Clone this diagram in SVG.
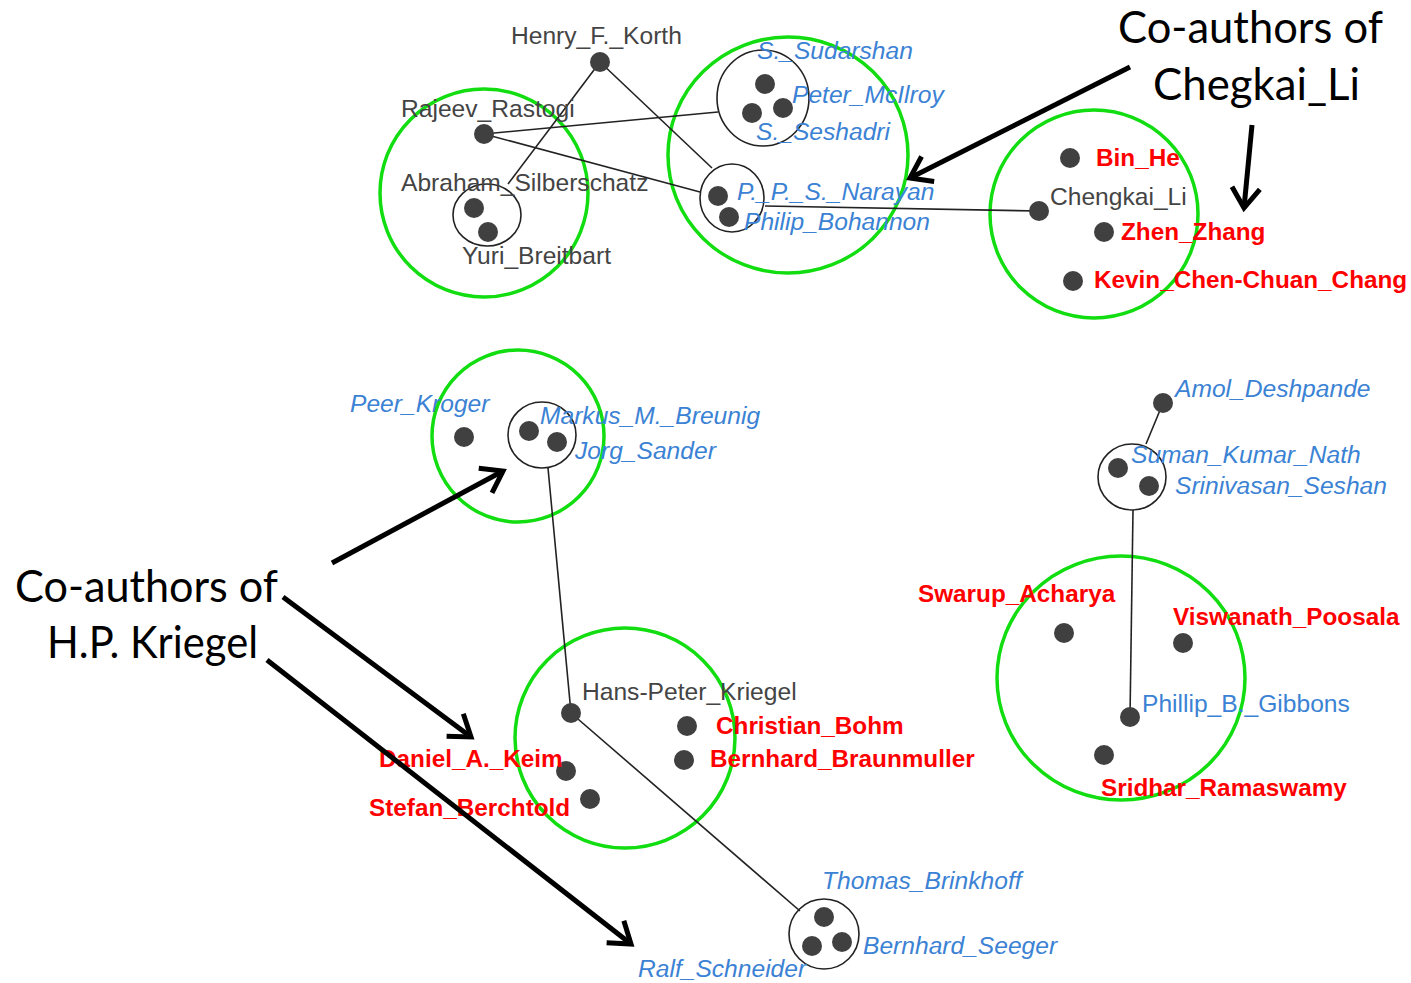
<svg xmlns="http://www.w3.org/2000/svg" width="1411" height="983" viewBox="0 0 1411 983">
<defs>
<style>
.gc{fill:none;stroke:#11dd11;stroke-width:3.5}
.bc{fill:none;stroke:#222;stroke-width:1.6}
.d{fill:#404040}
.e{stroke:#222;stroke-width:1.6;fill:none}
.g{font-family:"Liberation Sans",Arial,sans-serif;font-size:24.6px;fill:#444}
.b{font-family:"Liberation Sans",Arial,sans-serif;font-size:24.6px;fill:#3b82d4;font-style:italic}
.bn{font-family:"Liberation Sans",Arial,sans-serif;font-size:24.6px;fill:#3b82d4}
.r{font-family:"Liberation Sans",Arial,sans-serif;font-size:24.3px;fill:#ff0000;font-weight:bold}
.a{font-family:Lato,"Open Sans",sans-serif;font-size:44px;fill:#000}
.ar{stroke:#000;stroke-width:5;fill:none;marker-end:url(#ah)}
</style>
<marker id="ah" markerUnits="userSpaceOnUse" markerWidth="40" markerHeight="40" viewBox="-30 -20 40 40" refX="0" refY="0" orient="auto" overflow="visible">
<path d="M-20,-14 L0,0 L-20,14" fill="none" stroke="#000" stroke-width="5" stroke-linejoin="miter"/>
</marker>
</defs>
<rect width="1411" height="983" fill="#fff"/>

<g id="clusters">
<circle class="gc" cx="484" cy="193" r="104"/>
<ellipse class="gc" cx="788" cy="155" rx="120" ry="118"/>
<circle class="gc" cx="1094" cy="214" r="104"/>
<circle class="gc" cx="518" cy="436" r="86"/>
<circle class="gc" cx="625" cy="738" r="110"/>
<ellipse class="gc" cx="1121" cy="678" rx="124" ry="122"/>
</g>

<g id="connectors">
<line class="e" x1="600" y1="62" x2="508" y2="184"/>
<line class="e" x1="600" y1="62" x2="712" y2="168"/>
<line class="e" x1="484" y1="134" x2="718" y2="112"/>
<line class="e" x1="484" y1="134" x2="700" y2="192"/>
<line class="e" x1="765" y1="206" x2="1039" y2="211"/>
<line class="e" x1="548" y1="468" x2="571" y2="713"/>
<line class="e" x1="571" y1="713" x2="800" y2="911"/>
<line class="e" x1="1163" y1="403" x2="1146" y2="444"/>
<line class="e" x1="1133" y1="510" x2="1130" y2="717"/>
</g>

<g id="node-korth"><circle class="d" cx="600" cy="62" r="10"/><text class="g" x="511" y="44">Henry_F._Korth</text></g>
<g id="node-rastogi"><circle class="d" cx="484" cy="134" r="10"/><text class="g" x="401" y="117">Rajeev_Rastogi</text></g>
<g id="node-silberschatz"><ellipse class="bc" cx="487" cy="215" rx="34" ry="31"/><circle class="d" cx="474" cy="208" r="10"/><circle class="d" cx="488" cy="232" r="10"/><text class="g" x="401" y="191">Abraham_Silberschatz</text><text class="g" x="462" y="264">Yuri_Breitbart</text></g>
<g id="node-sudarshan"><ellipse class="bc" cx="763" cy="98" rx="46" ry="48"/><circle class="d" cx="765" cy="84" r="10"/><circle class="d" cx="752" cy="113" r="10"/><circle class="d" cx="783" cy="108" r="10"/><text class="b" x="757" y="59">S._Sudarshan</text><text class="b" x="792" y="103">Peter_McIlroy</text><text class="b" x="756" y="140">S._Seshadri</text></g>
<g id="node-narayan"><ellipse class="bc" cx="732" cy="198" rx="32" ry="34"/><circle class="d" cx="718" cy="196" r="10"/><circle class="d" cx="729" cy="217" r="10"/><text class="b" x="737" y="200">P._P._S._Narayan</text><text class="b" x="744" y="230">Philip_Bohannon</text></g>
<g id="node-chengkai"><circle class="d" cx="1039" cy="211" r="10"/><text class="g" x="1050" y="205">Chengkai_Li</text></g>
<g id="node-binhe"><circle class="d" cx="1070" cy="158" r="10"/><text class="r" x="1096" y="166">Bin_He</text></g>
<g id="node-zhang"><circle class="d" cx="1104" cy="232" r="10"/><text class="r" x="1121" y="240">Zhen_Zhang</text></g>
<g id="node-chang"><circle class="d" cx="1073" cy="281" r="10"/><text class="r" x="1094" y="288">Kevin_Chen-Chuan_Chang</text></g>

<g id="node-kroger"><circle class="d" cx="464" cy="437" r="10"/><text class="b" x="350" y="412">Peer_Kroger</text></g>
<g id="node-breunig"><ellipse class="bc" cx="542" cy="435" rx="34" ry="33"/><circle class="d" cx="529" cy="431" r="10"/><circle class="d" cx="557" cy="442" r="10"/><text class="b" x="540" y="424">Markus_M._Breunig</text><text class="b" x="575" y="459">Jorg_Sander</text></g>
<g id="node-kriegel"><circle class="d" cx="571" cy="713" r="10"/><text class="g" x="582" y="700">Hans-Peter_Kriegel</text></g>
<g id="node-bohm"><circle class="d" cx="687" cy="726" r="10"/><text class="r" x="716" y="734">Christian_Bohm</text></g>
<g id="node-braunmuller"><circle class="d" cx="684" cy="760" r="10"/><text class="r" x="710" y="767">Bernhard_Braunmuller</text></g>
<g id="node-keim"><circle class="d" cx="566" cy="771" r="10"/><text class="r" x="379" y="767">Daniel_A._Keim</text></g>
<g id="node-berchtold"><circle class="d" cx="590" cy="799" r="10"/><text class="r" x="369" y="816">Stefan_Berchtold</text></g>
<g id="node-brinkhoff"><ellipse class="bc" cx="824" cy="934" rx="35" ry="35"/><circle class="d" cx="824" cy="917" r="10"/><circle class="d" cx="812" cy="946" r="10"/><circle class="d" cx="842" cy="942" r="10"/><text class="b" x="822" y="889">Thomas_Brinkhoff</text><text class="b" x="863" y="954">Bernhard_Seeger</text><text class="b" x="638" y="977">Ralf_Schneider</text></g>

<g id="node-deshpande"><circle class="d" cx="1163" cy="403" r="10"/><text class="b" x="1175" y="397">Amol_Deshpande</text></g>
<g id="node-nath"><ellipse class="bc" cx="1132" cy="477" rx="34" ry="33"/><circle class="d" cx="1118" cy="468" r="10"/><circle class="d" cx="1149" cy="486" r="10"/><text class="b" x="1131" y="463">Suman_Kumar_Nath</text><text class="b" x="1175" y="494">Srinivasan_Seshan</text></g>
<g id="node-acharya"><circle class="d" cx="1064" cy="633" r="10"/><text class="r" x="918" y="602">Swarup_Acharya</text></g>
<g id="node-poosala"><circle class="d" cx="1183" cy="643" r="10"/><text class="r" x="1173" y="625">Viswanath_Poosala</text></g>
<g id="node-gibbons"><circle class="d" cx="1130" cy="717" r="10"/><text class="bn" x="1142" y="712">Phillip_B._Gibbons</text></g>
<g id="node-ramaswamy"><circle class="d" cx="1104" cy="755" r="10"/><text class="r" x="1101" y="796">Sridhar_Ramaswamy</text></g>

<g id="annotations">
<text class="a" x="1118" y="43" textLength="265" lengthAdjust="spacingAndGlyphs">Co-authors of</text>
<text class="a" x="1153" y="100" textLength="207" lengthAdjust="spacingAndGlyphs">Chegkai_Li</text>
<text class="a" x="15" y="602" textLength="263" lengthAdjust="spacingAndGlyphs">Co-authors of</text>
<text class="a" x="47" y="658" textLength="211" lengthAdjust="spacingAndGlyphs">H.P. Kriegel</text>
<line class="ar" x1="1130" y1="67" x2="910" y2="178"/>
<line class="ar" x1="1252" y1="125" x2="1244" y2="208"/>
<line class="ar" x1="332" y1="563" x2="503" y2="471"/>
<line class="ar" x1="283" y1="597" x2="471" y2="737"/>
<line class="ar" x1="267" y1="660" x2="631" y2="944"/>
</g>
</svg>
